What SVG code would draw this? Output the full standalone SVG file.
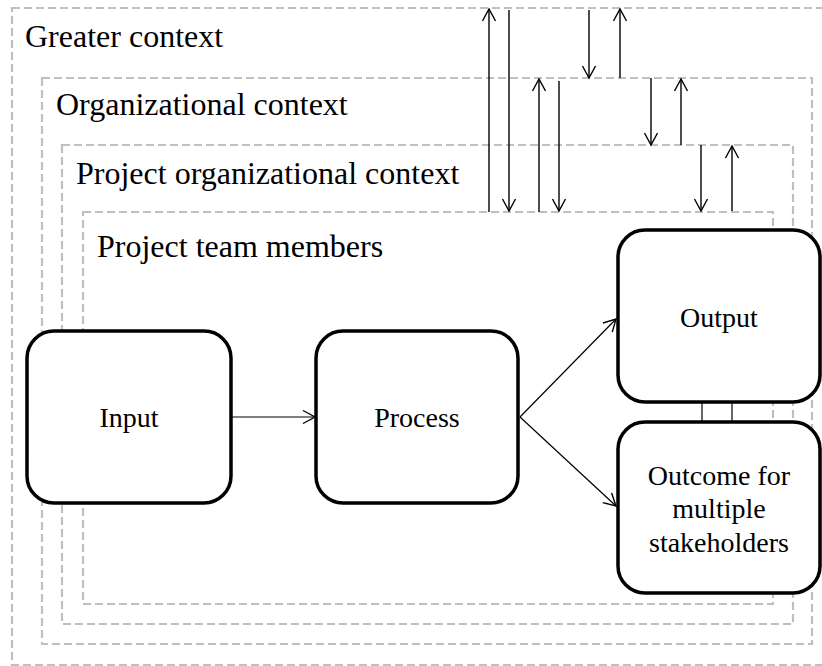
<svg xmlns="http://www.w3.org/2000/svg" width="822" height="666" viewBox="0 0 822 666">
<style>
.ctx{fill:none;stroke:#bfbfbf;stroke-width:2.2;stroke-dasharray:8,4}
.lbl{font-family:"Liberation Serif","Times New Roman",serif;font-size:32px;fill:#000}
.box{fill:#fff;stroke:#000;stroke-width:3.5}
.bt{font-family:"Liberation Serif","Times New Roman",serif;font-size:28px;fill:#000;text-anchor:middle}
.ar{stroke:#000;stroke-width:1.4;fill:none}
.cn{stroke:#000;stroke-width:1.2;fill:none}
</style>
<defs>
<marker id="ah" markerUnits="userSpaceOnUse" markerWidth="16" markerHeight="16" viewBox="0 0 16 16" refX="13" refY="8" orient="auto">
<path d="M1,1.5 L13,8 L1,14.5" fill="none" stroke="#000" stroke-width="1.4"/>
</marker>
</defs>
<g id="greater-context">
<rect class="ctx" x="12" y="8" width="815" height="657"/>
<text class="lbl" x="25" y="47">Greater context</text>
</g>
<g id="organizational-context">
<rect class="ctx" x="42" y="78" width="770" height="566"/>
<text class="lbl" x="56" y="115">Organizational context</text>
</g>
<g id="project-organizational-context">
<rect class="ctx" x="62" y="145" width="731" height="479"/>
<text class="lbl" x="76" y="184">Project organizational context</text>
</g>
<g id="project-team-members">
<rect class="ctx" x="83" y="212" width="690" height="392"/>
<text class="lbl" x="97" y="257">Project team members</text>
</g>
<g id="connectors">
<line class="ar" x1="489" y1="212" x2="489" y2="9" marker-end="url(#ah)"/>
<line class="ar" x1="509" y1="10" x2="509" y2="211" marker-end="url(#ah)"/>
<line class="ar" x1="539" y1="212" x2="539" y2="79" marker-end="url(#ah)"/>
<line class="ar" x1="559" y1="81" x2="559" y2="211" marker-end="url(#ah)"/>
<line class="ar" x1="589" y1="10" x2="589" y2="78" marker-end="url(#ah)"/>
<line class="ar" x1="620" y1="78" x2="620" y2="9" marker-end="url(#ah)"/>
<line class="ar" x1="651" y1="78" x2="651" y2="145" marker-end="url(#ah)"/>
<line class="ar" x1="681" y1="145" x2="681" y2="79" marker-end="url(#ah)"/>
<line class="ar" x1="701" y1="145" x2="701" y2="211" marker-end="url(#ah)"/>
<line class="ar" x1="732" y1="211" x2="732" y2="146" marker-end="url(#ah)"/>
<line class="cn" x1="231" y1="417" x2="315" y2="417" marker-end="url(#ah)"/>
<line class="cn" x1="520" y1="417" x2="616" y2="319" marker-end="url(#ah)"/>
<line class="cn" x1="520" y1="417" x2="616" y2="506" marker-end="url(#ah)"/>
<line class="cn" x1="702" y1="402" x2="702" y2="422"/>
<line class="cn" x1="732" y1="402" x2="732" y2="422"/>
</g>
<g id="input">
<rect class="box" x="27" y="331" width="204" height="172" rx="27"/>
<text class="bt" x="129" y="427">Input</text>
</g>
<g id="process">
<rect class="box" x="316" y="331" width="202" height="172" rx="27"/>
<text class="bt" x="417" y="427">Process</text>
</g>
<g id="output">
<rect class="box" x="618" y="230" width="202" height="172" rx="27"/>
<text class="bt" x="719" y="327">Output</text>
</g>
<g id="outcome">
<rect class="box" x="618" y="422" width="202" height="171" rx="27"/>
<text class="bt" x="719" y="485">Outcome for</text>
<text class="bt" x="719" y="518">multiple</text>
<text class="bt" x="719" y="552">stakeholders</text>
</g>
</svg>
